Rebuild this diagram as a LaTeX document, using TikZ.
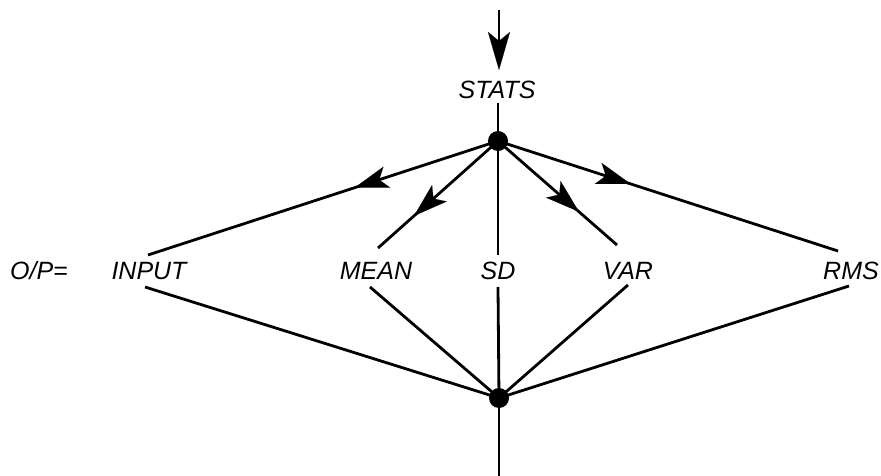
\documentclass[tikz,border=0pt]{standalone}
\usepackage{fontspec}
\setmainfont{Liberation Sans}
\usetikzlibrary{arrows.meta,decorations.markings}
\begin{document}
\begin{tikzpicture}[x=1pt,y=-1pt,
  lbl/.style={font=\fontsize{25}{28}\selectfont\itshape,inner sep=0pt,anchor=center},
  dot/.style={circle,fill=black,minimum size=20pt,inner sep=0pt},
  edge/.style={line width=2.8pt},
  midarrow/.style={edge,decoration={markings,mark=at position #1 with {\arrow[line width=0.1pt]{Stealth[length=34pt,width=22pt,inset=8pt]}}},postaction={decorate}}]
\useasboundingbox (0,0) rectangle (881,476);
\node[dot] (top) at (498,141) {};
\node[dot] (bot) at (499,398) {};
\node[lbl] (stats) at (497,90) {STATS};
\node[lbl] (op) at (39,271) {O/P=};
\node[lbl] (input) at (149,271) {INPUT};
\node[lbl] (mean) at (376,271) {MEAN};
\node[lbl] (sd) at (498,271) {SD};
\node[lbl] (var) at (628,271) {VAR};
\node[lbl] (rms) at (851,271) {RMS};
\coordinate (in0) at (499,10);
\coordinate (in1) at (499,70);
\coordinate (st1) at (498,103);
\coordinate (out1) at (499,476);
\coordinate (inputT) at (148,255);
\coordinate (inputB) at (145,287);
\coordinate (meanT) at (378,248);
\coordinate (meanB) at (370,287);
\coordinate (sdT) at (498,255);
\coordinate (sdB) at (498,287);
\coordinate (varT) at (617,245);
\coordinate (varB) at (628,285);
\coordinate (rmsT) at (838,251);
\coordinate (rmsB) at (849,286);
\draw[edge,-{Stealth[length=38pt,width=22pt,inset=9pt,line width=0.1pt]}] (in0) -- (in1);
\draw[edge] (st1) -- (top.center);
\draw[midarrow=0.41] (top.center) -- (inputT);
\draw[midarrow=0.70] (top.center) -- (meanT);
\draw[edge] (top.center) -- (sdT);
\draw[midarrow=0.68] (top.center) -- (varT);
\draw[midarrow=0.39] (top.center) -- (rmsT);
\draw[edge] (inputB) -- (bot.center);
\draw[edge] (meanB) -- (bot.center);
\draw[edge] (sdB) -- (bot.center);
\draw[edge] (varB) -- (bot.center);
\draw[edge] (rmsB) -- (bot.center);
\draw[edge] (bot.center) -- (out1);
\end{tikzpicture}
\end{document}
